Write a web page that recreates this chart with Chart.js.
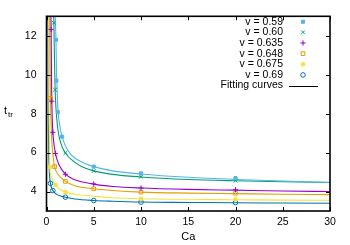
<!DOCTYPE html>
<html>
<head>
<meta charset="utf-8">
<script src="https://cdn.jsdelivr.net/npm/chart.js@4.4.1/dist/chart.umd.min.js"></script>
<style>
  html, body { margin: 0; padding: 0; background: #ffffff; }
  #wrap { width: 350px; height: 245px; position: relative; }
</style>
</head>
<body>
<div id="wrap"><canvas id="c" width="350" height="245"></canvas></div>
<script>
// ---- data ----
const seriesLabels = ['v = 0.59', 'v = 0.60', 'v = 0.635', 'v = 0.648', 'v = 0.675', 'v = 0.69'];
const fitLabel = 'Fitting curves';
const xTitle = 'Ca';
const yTitleMain = 't';
const yTitleSub = 'tr';
const xTickValues = [0, 5, 10, 15, 20, 25, 30];
const yTickValues = [4, 6, 8, 10, 12];

// measured points
const ca059 = [1.0, 1.05, 1.2, 1.65, 5, 10, 20];
const t059  = [11.8, 9.7, 8.08, 6.82, 5.28, 4.93, 4.69];
const ca060 = [0.78, 0.91, 2, 5, 10, 20];
const t060  = [12.67, 9.23, 5.98, 5.06, 4.76, 4.56];
const ca0635 = [0.49, 0.56, 0.67, 0.95, 2, 5, 10, 20];
const t0635  = [12.33, 8.64, 7.04, 5.95, 4.89, 4.39, 4.18, 4.09];
const ca0648 = [0.42, 0.85, 2, 5, 10, 20];
const t0648  = [8.79, 5.28, 4.52, 4.14, 3.97, 3.91];
const ca0675 = [0.35, 0.95, 2, 10, 20];
const t0675  = [5.26, 4.34, 3.97, 3.63, 3.6];
const ca069 = [0.42, 0.67, 2, 5, 10, 20];
const t069  = [4.42, 4.05, 3.71, 3.54, 3.46, 3.43];

// fitting curves
const fitCa059 = [0.9, 1.0, 1.05, 1.1, 1.2, 1.4, 1.65, 2, 2.5, 3, 4, 5, 7, 10, 15, 20, 25, 30];
const fitT059  = [13.3, 11.8, 10.4, 9.6, 8.3, 7.4, 6.82, 6.35, 5.95, 5.72, 5.45, 5.28, 5.06, 4.9, 4.73, 4.62, 4.54, 4.47];
const fitCa060 = [0.72, 0.78, 0.85, 0.91, 1.0, 1.2, 1.5, 2, 3, 4, 5, 7, 10, 15, 20, 25, 30];
const fitT060  = [13.5, 12.67, 10.6, 9.3, 8.3, 7.2, 6.5, 5.98, 5.5, 5.22, 5.06, 4.88, 4.75, 4.62, 4.55, 4.5, 4.46];
const fitCa0635 = [0.46, 0.49, 0.53, 0.56, 0.62, 0.67, 0.8, 0.95, 1.3, 2, 3, 5, 7, 10, 15, 20, 25, 30];
const fitT0635  = [13.5, 12.3, 10.0, 8.7, 7.6, 7.05, 6.4, 5.95, 5.4, 4.89, 4.6, 4.38, 4.26, 4.18, 4.11, 4.07, 4.03, 4.0];
const fitCa0648 = [0.33, 0.35, 0.38, 0.42, 0.5, 0.6, 0.7, 0.85, 1.2, 2, 3, 5, 7, 10, 15, 20, 25, 30];
const fitT0648  = [13.5, 12.0, 10.3, 8.8, 7.3, 6.3, 5.8, 5.28, 4.9, 4.52, 4.3, 4.14, 4.05, 3.97, 3.92, 3.89, 3.86, 3.84];
const fitCa0675 = [0.22, 0.24, 0.26, 0.28, 0.31, 0.35, 0.45, 0.6, 0.95, 1.4, 2, 3, 5, 7, 10, 15, 20, 25, 30];
const fitT0675  = [13.5, 12.0, 9.5, 7.8, 6.3, 5.3, 4.85, 4.6, 4.34, 4.12, 3.97, 3.86, 3.76, 3.68, 3.63, 3.6, 3.58, 3.56, 3.55];
const fitCa069 = [0.14, 0.16, 0.19, 0.23, 0.28, 0.34, 0.42, 0.52, 0.67, 1, 1.4, 2, 3, 5, 7, 10, 15, 20, 25, 30];
const fitT069  = [13.5, 11.0, 8.0, 6.2, 5.2, 4.7, 4.42, 4.22, 4.05, 3.88, 3.78, 3.71, 3.62, 3.54, 3.5, 3.46, 3.44, 3.42, 3.41, 3.4];

// ---- styling ----
const colors = ['#56b4e9', '#009e73', '#9400d3', '#e69f00', '#f0e442', '#0072b2'];
const markers = [
  { style: 'rect', radius: 2.2, fill: true },
  { style: 'crossRot', radius: 2.6, fill: false },
  { style: 'cross', radius: 2.6, fill: false },
  { style: 'rect', radius: 2.6, fill: false },
  { style: 'rect', radius: 2.2, fill: true },
  { style: 'circle', radius: 2.3, fill: false }
];
const pts = [[ca059, t059], [ca060, t060], [ca0635, t0635], [ca0648, t0648], [ca0675, t0675], [ca069, t069]];
const fits = [[fitCa059, fitT059], [fitCa060, fitT060], [fitCa0635, fitT0635], [fitCa0648, fitT0648], [fitCa0675, fitT0675], [fitCa069, fitT069]];
const zip = (xs, ys) => xs.map((x, i) => ({ x: x, y: ys[i] }));

const FONT = '"Liberation Sans", Arial, sans-serif';
const datasets = [];
fits.forEach((f, i) => {
  datasets.push({
    label: 'fit ' + seriesLabels[i],
    data: zip(f[0], f[1]),
    showLine: true,
    borderColor: colors[i],
    borderWidth: 1.1,
    pointRadius: 0,
    cubicInterpolationMode: 'monotone',
    fill: false,
    order: 2
  });
});
pts.forEach((p, i) => {
  const m = markers[i];
  datasets.push({
    label: seriesLabels[i],
    data: zip(p[0], p[1]),
    showLine: false,
    pointStyle: m.style,
    pointRadius: m.radius,
    pointBorderColor: colors[i],
    pointBackgroundColor: m.fill ? colors[i] : 'rgba(0,0,0,0)',
    pointBorderWidth: 1,
    order: 1
  });
});

const frame = {
  id: 'frame',
  afterDraw(chart) {
    const ctx = chart.ctx;
    const a = chart.chartArea;
    const xs = chart.scales.x, ys = chart.scales.y;
    ctx.save();
    ctx.strokeStyle = '#000';
    // inward mirrored ticks
    ctx.lineWidth = 1;
    const tl = 4;
    xTickValues.forEach(v => {
      const px = Math.round(xs.getPixelForValue(v)) + 0.5;
      ctx.beginPath();
      ctx.moveTo(px, a.bottom); ctx.lineTo(px, a.bottom - tl);
      ctx.moveTo(px, a.top); ctx.lineTo(px, a.top + tl);
      ctx.stroke();
    });
    yTickValues.forEach(v => {
      const py = Math.round(ys.getPixelForValue(v)) + 0.5;
      ctx.beginPath();
      ctx.moveTo(a.left, py); ctx.lineTo(a.left + tl, py);
      ctx.moveTo(a.right, py); ctx.lineTo(a.right - tl, py);
      ctx.stroke();
    });
    // border
    ctx.lineWidth = 1.6;
    ctx.strokeRect(a.left, a.top, a.right - a.left, a.bottom - a.top);

    // axis titles
    ctx.fillStyle = '#000';
    ctx.textBaseline = 'middle';
    ctx.textAlign = 'center';
    ctx.font = '11px ' + FONT;
    ctx.fillText(xTitle, (a.left + a.right) / 2, 237);
    ctx.textAlign = 'left';
    ctx.font = '11px ' + FONT;
    ctx.fillText(yTitleMain, 4, 111);
    ctx.font = '8px ' + FONT;
    ctx.fillText(yTitleSub, 8, 115);

    // legend
    const textRight = 283;
    const symX = 303;
    const y0 = 21.7, dy = 10.65;
    ctx.font = '10.5px ' + FONT;
    ctx.textAlign = 'right';
    seriesLabels.forEach((lab, i) => {
      const y = y0 + i * dy;
      ctx.fillStyle = '#000';
      ctx.fillText(lab, textRight, y);
      const m = markers[i];
      ctx.fillStyle = m.fill ? colors[i] : 'rgba(0,0,0,0)';
      ctx.strokeStyle = colors[i];
      ctx.lineWidth = 1;
      Chart.helpers.drawPoint(ctx, { pointStyle: m.style, radius: m.radius, borderWidth: 1, rotation: 0 }, symX, y);
    });
    const yf = y0 + 6 * dy;
    ctx.fillStyle = '#000';
    ctx.fillText(fitLabel, textRight, yf);
    ctx.strokeStyle = '#000';
    ctx.lineWidth = 1;
    ctx.beginPath();
    ctx.moveTo(289, Math.round(yf) + 0.5); ctx.lineTo(318, Math.round(yf) + 0.5);
    ctx.stroke();
    ctx.restore();
  }
};

new Chart(document.getElementById('c'), {
  type: 'scatter',
  data: { datasets: datasets },
  options: {
    responsive: false,
    animation: false,
    devicePixelRatio: 1,
    layout: { padding: { left: 0, top: 13, right: 20, bottom: 0 } },
    plugins: { legend: { display: false }, tooltip: { enabled: false }, title: { display: false } },
    scales: {
      x: {
        type: 'linear', min: 0, max: 30,
        grid: { display: false, drawTicks: false },
        border: { display: false },
        afterBuildTicks: s => { s.ticks = xTickValues.map(v => ({ value: v })); },
        afterFit: s => { s.height = 34; },
        ticks: { color: '#000', font: { family: FONT, size: 10.5 }, padding: 5, maxRotation: 0 }
      },
      y: {
        type: 'linear', min: 3, max: 13,
        grid: { display: false, drawTicks: false },
        border: { display: false },
        afterBuildTicks: s => { s.ticks = yTickValues.map(v => ({ value: v })); },
        afterFit: s => { s.width = 46.5; },
        ticks: { color: '#000', font: { family: FONT, size: 10.5 }, padding: 10 }
      }
    }
  },
  plugins: [frame]
});
</script>
</body>
</html>
